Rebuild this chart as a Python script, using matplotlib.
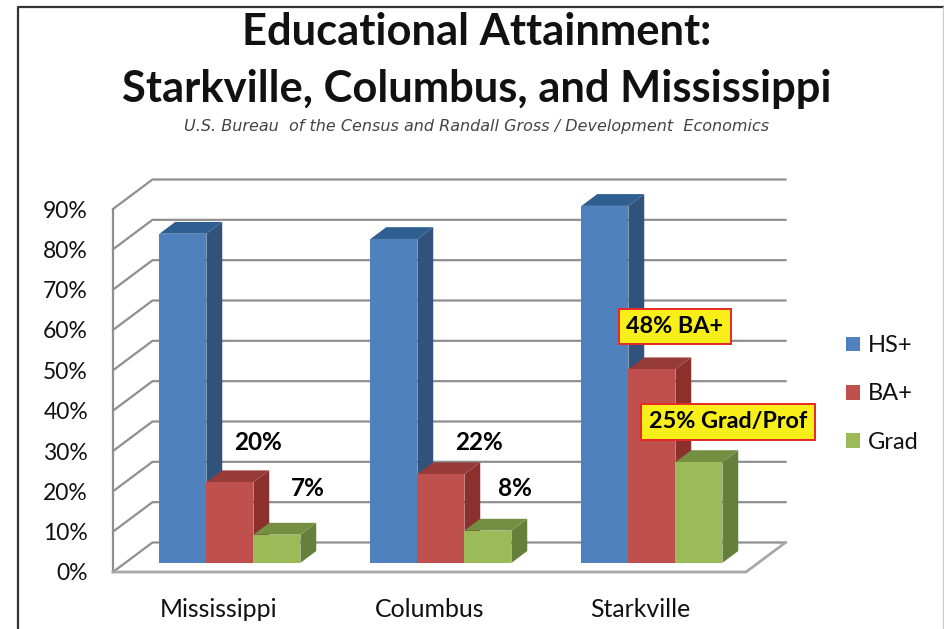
import matplotlib
matplotlib.use('Agg')
import matplotlib.pyplot as plt
from matplotlib.lines import Line2D
from matplotlib.patches import Patch, Polygon

plt.rcParams['font.family'] = ['Lato', 'DejaVu Sans']

categories = ['Mississippi', 'Columbus', 'Starkville']
hs_plus = [81.6, 80.3, 88.5]
ba_plus = [20, 22, 48]
grad = [7, 8, 25]
series_names = ['HS+', 'BA+', 'Grad']
y_ticks = [0, 10, 20, 30, 40, 50, 60, 70, 80, 90]

W, H = 944, 629
fig = plt.figure(figsize=(W / 100, H / 100), dpi=100, facecolor='white')

# front plane of the 3D box, in pixels from the top left
left, right, floor, top = 113, 746, 572, 209
ax = fig.add_axes([left / W, 1 - floor / H, (right - left) / W, (floor - top) / H])
ax.set_xlim(0, 3)
ax.set_ylim(0, 90)
ax.set_facecolor('none')
for s in ax.spines.values():
    s.set_visible(False)

# one unit of depth moves this far right and up in data units
DX = 39.5 / 211
DY = 29.5 / 4.033


def proj(x, y, d):
    return (x + d * DX, y + d * DY)


# walls and floor
grid_c = '#8f8f8f'
for t in y_ticks:
    ax.plot(*zip(proj(0, t, 0), proj(0, t, 1), proj(3, t, 1)), color=grid_c, lw=1.6,
            clip_on=False, zorder=1, solid_joinstyle='miter')
ax.plot(*zip(proj(0, 90, 0), proj(0, 0, 0)), color=grid_c, lw=1.6, clip_on=False, zorder=1)
ax.plot(*zip(proj(0, 0, 0), proj(3, 0, 0), proj(3, 0, 1)), color='#a8a8a8', lw=2,
        clip_on=False, zorder=1, solid_joinstyle='miter')

# 3D columns
bar_w = 47 / 211
front_d = 0.31
back_d = 0.31 + 0.4
start = 0.162
colors = [('#4F81BD', '#2F5F90', '#31527A'),
          ('#C0504D', '#963B38', '#8C302D'),
          ('#9BBB59', '#748F42', '#64803A')]
series = [hs_plus, ba_plus, grad]


def draw_bar(x0, h, cols, z):
    x1 = x0 + bar_w
    front = [proj(x0, 0, front_d), proj(x1, 0, front_d), proj(x1, h, front_d), proj(x0, h, front_d)]
    side = [proj(x1, 0, front_d), proj(x1, 0, back_d), proj(x1, h, back_d), proj(x1, h, front_d)]
    cap = [proj(x0, h, front_d), proj(x1, h, front_d), proj(x1, h, back_d), proj(x0, h, back_d)]
    ax.add_patch(Polygon(side, closed=True, fc=cols[2], ec='none', clip_on=False, zorder=z))
    ax.add_patch(Polygon(cap, closed=True, fc=cols[1], ec='none', clip_on=False, zorder=z))
    ax.add_patch(Polygon(front, closed=True, fc=cols[0], ec='none', clip_on=False, zorder=z + 0.1))


for i in range(len(categories)):
    for j, vals in enumerate(series):
        draw_bar(i + start + j * bar_w, vals[i], colors[j], 2 + i + j * 0.2)

# axis labels
ax.set_xticks([0.5, 1.5, 2.5])
ax.set_xticklabels(categories, fontsize=17.9, color='#111111')
ax.set_yticks(y_ticks)
ax.set_yticklabels([f'{t}%' for t in y_ticks], fontsize=16.5, color='#111111')
ax.tick_params(axis='x', length=0, pad=18.5)
ax.tick_params(axis='y', length=0, pad=18)

# value labels over the two smaller columns
ba_offsets = [(9.1, 19.9), (15.7, 14.1)]
grad_offsets = [(11.2, 24.6), (8.3, 21.6)]
for i in range(2):
    ax.annotate(f'{ba_plus[i]}%', proj(i + start + 1.5 * bar_w, ba_plus[i], back_d),
                xytext=ba_offsets[i], textcoords='offset points', ha='center', va='center',
                fontsize=17.5, fontweight='bold', zorder=10)
    ax.annotate(f'{grad[i]}%', proj(i + start + 2.5 * bar_w, grad[i], back_d),
                xytext=grad_offsets[i], textcoords='offset points', ha='center', va='center',
                fontsize=17.5, fontweight='bold', zorder=10)

# callouts on the Starkville group
box = dict(boxstyle='square,pad=0.32', fc='#F7EE1A', ec='#E8282A', lw=1.4)
ax.annotate(f'{ba_plus[2]}% BA+', proj(2 + start + 1.5 * bar_w, ba_plus[2], back_d),
            xytext=(5.2, 22.3), textcoords='offset points', ha='center', va='center',
            fontsize=16.8, fontweight='bold', bbox=box, zorder=10)
ax.annotate(f'{grad[2]}% Grad/Prof', proj(2 + start + 2.5 * bar_w, grad[2], back_d),
            xytext=(9.5, 20.4), textcoords='offset points', ha='center', va='center',
            fontsize=16.8, fontweight='bold', bbox=box, zorder=10)

# legend on the right
handles = [Patch(fc=colors[k][0], ec='none') for k in range(3)]
fig.legend(handles, series_names, loc='center left', bbox_to_anchor=(846 / W, 1 - 394 / H),
           frameon=False, fontsize=17, handlelength=0.59, handleheight=0.59,
           handletextpad=0.32, labelspacing=1.15, borderpad=0, borderaxespad=0,
           labelcolor='#111111')

# titles
fig.text(476.5 / W, 1 - 32 / H, 'Educational Attainment:', ha='center', va='center',
         fontsize=31.3, fontweight='bold', color='#111111')
fig.text(476.5 / W, 1 - 89 / H, 'Starkville, Columbus, and Mississippi', ha='center', va='center',
         fontsize=31.3, fontweight='bold', color='#111111')
fig.text(476.5 / W, 1 - 127 / H, 'U.S. Bureau  of the Census and Randall Gross / Development  Economics',
         ha='center', va='center', fontsize=11.55, style='italic', color='#444444',
         family='DejaVu Sans')

# outer frame
fig.add_artist(Line2D([18 / W, 18 / W, 943 / W], [0, 1 - 7 / H, 1 - 7 / H], color='#333333', lw=1.6))
fig.add_artist(Line2D([943 / W, 943 / W], [0, 1 - 7 / H], color='#cccccc', lw=1))

fig.savefig('out.png', dpi=100)
